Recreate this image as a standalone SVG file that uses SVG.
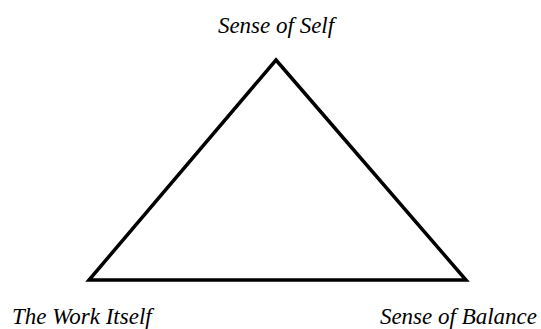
<svg xmlns="http://www.w3.org/2000/svg" width="541" height="329" viewBox="0 0 541 329">
<style>
.lbl{font-family:"Liberation Serif","Times New Roman",serif;font-style:italic;font-size:23px;fill:#000}
.edge{fill:none;stroke:#000;stroke-width:3.5;stroke-linejoin:miter}
</style>
<rect width="541" height="329" fill="#fff"/>
<g id="connectors">
<polygon class="edge" points="276,60 466,280 89,280"/>
</g>
<g id="node-self"><text class="lbl" x="276" y="33" text-anchor="middle">Sense of Self</text></g>
<g id="node-work"><text class="lbl" x="12" y="324">The Work Itself</text></g>
<g id="node-balance"><text class="lbl" x="537" y="324" text-anchor="end">Sense of Balance</text></g>
</svg>
